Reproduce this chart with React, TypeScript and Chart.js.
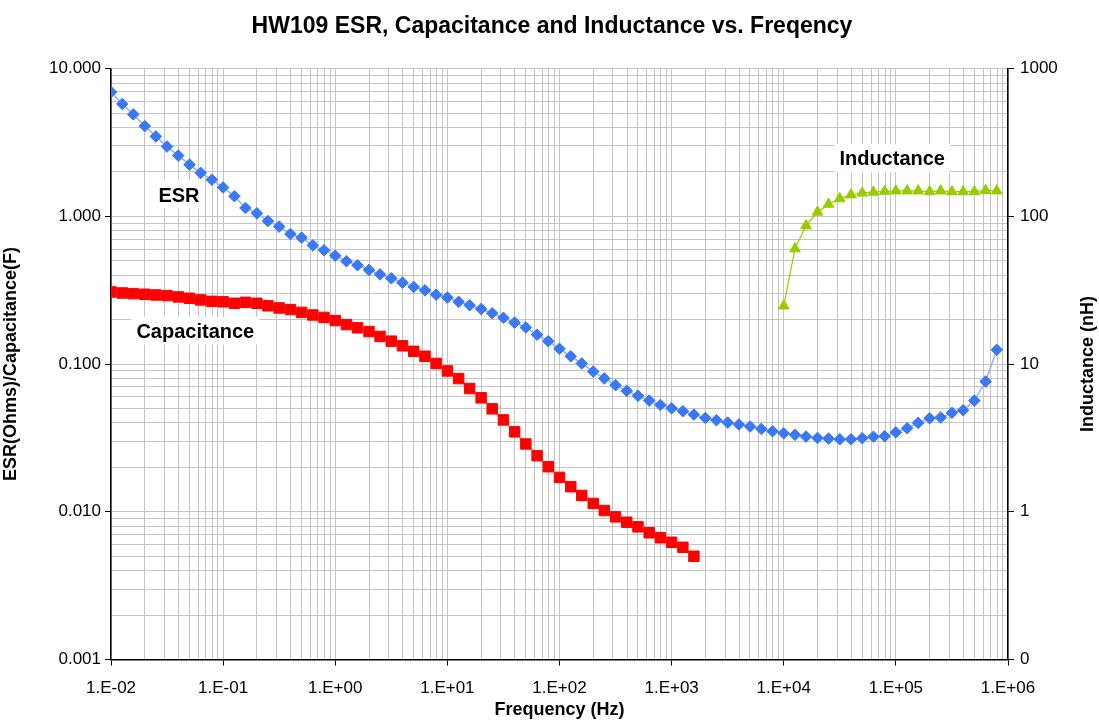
import React, { useEffect, useRef } from 'react';
import { Chart, registerables } from 'chart.js';

Chart.register(...registerables);

// ---------------- data ----------------
const freqHz = [
  1.00e-2, 1.26e-2, 1.58e-2, 2.00e-2, 2.51e-2, 3.16e-2, 3.98e-2, 5.01e-2, 6.31e-2, 7.94e-2,
  1.00e-1, 1.26e-1, 1.58e-1, 2.00e-1, 2.51e-1, 3.16e-1, 3.98e-1, 5.01e-1, 6.31e-1, 7.94e-1,
  1.00e0, 1.26e0, 1.58e0, 2.00e0, 2.51e0, 3.16e0, 3.98e0, 5.01e0, 6.31e0, 7.94e0,
  1.00e1, 1.26e1, 1.58e1, 2.00e1, 2.51e1, 3.16e1, 3.98e1, 5.01e1, 6.31e1, 7.94e1,
  1.00e2, 1.26e2, 1.58e2, 2.00e2, 2.51e2, 3.16e2, 3.98e2, 5.01e2, 6.31e2, 7.94e2,
  1.00e3, 1.26e3, 1.58e3, 2.00e3, 2.51e3, 3.16e3, 3.98e3, 5.01e3, 6.31e3, 7.94e3,
  1.00e4, 1.26e4, 1.58e4, 2.00e4, 2.51e4, 3.16e4, 3.98e4, 5.01e4, 6.31e4, 7.94e4,
  1.00e5, 1.26e5, 1.58e5, 2.00e5, 2.51e5, 3.16e5, 3.98e5, 5.01e5, 6.31e5, 7.94e5,
];

const esrOhms = [
  6.95, 5.77, 4.91, 4.09, 3.48, 2.97, 2.58, 2.24, 1.97, 1.77,
  1.57, 1.37, 1.14, 1.05, 0.93, 0.853, 0.76, 0.718, 0.637, 0.59,
  0.542, 0.497, 0.467, 0.434, 0.405, 0.381, 0.356, 0.333, 0.316, 0.295,
  0.282, 0.264, 0.25, 0.236, 0.221, 0.206, 0.191, 0.177, 0.158, 0.143,
  0.127, 0.113, 0.101, 0.089, 0.08, 0.072, 0.0659, 0.061, 0.0566, 0.0529,
  0.0502, 0.048, 0.0455, 0.0432, 0.0417, 0.0402, 0.039, 0.0378, 0.0364, 0.0351,
  0.034, 0.0332, 0.0323, 0.0316, 0.0313, 0.031, 0.031, 0.0315, 0.0322, 0.0325,
  0.0345, 0.0368, 0.04, 0.043, 0.0435, 0.0468, 0.0487, 0.0566, 0.0762, 0.125,
];

// capacitance measured from 1E-2 Hz up to ~1.6E3 Hz (first 53 frequencies)
const capacitanceF = [
  0.308, 0.303, 0.3, 0.297, 0.294, 0.291, 0.285, 0.279, 0.272, 0.266,
  0.264, 0.258, 0.262, 0.258, 0.248, 0.24, 0.234, 0.224, 0.215, 0.207,
  0.197, 0.185, 0.176, 0.166, 0.154, 0.143, 0.133, 0.122, 0.113, 0.101,
  0.0899, 0.0798, 0.0683, 0.0591, 0.0498, 0.0419, 0.0348, 0.0288, 0.024, 0.0202,
  0.0171, 0.0148, 0.0129, 0.0114, 0.0102, 0.00924, 0.0085, 0.00791, 0.00721, 0.00667,
  0.00622, 0.00575, 0.005,
];

// inductance measured from 1E4 Hz up to ~8E5 Hz (last 20 frequencies)
const inductanceNH = [
  24.8, 60.4, 86.5, 107, 121, 132, 140, 144, 146, 148,
  149, 149, 149, 147, 149, 147, 147, 147, 150, 149,
];
const inductanceStartIndex = 60;

const xDecades = [1e-2, 1e-1, 1e0, 1e1, 1e2, 1e3, 1e4, 1e5, 1e6];
const xTickLabels = ['1.E-02', '1.E-01', '1.E+00', '1.E+01', '1.E+02', '1.E+03', '1.E+04', '1.E+05', '1.E+06'];
const yLeftDecades = [1e-3, 1e-2, 1e-1, 1e0, 1e1];
const yLeftTickLabels = ['0.001', '0.010', '0.100', '1.000', '10.000'];
const yRightDecades = [1e-1, 1e0, 1e1, 1e2, 1e3];
const yRightTickLabels = ['0', '1', '10', '100', '1000'];

const chartTitle = 'HW109 ESR, Capacitance and Inductance vs. Freqency';
const xTitle = 'Frequency (Hz)';
const yLeftTitle = 'ESR(Ohms)/Capacitance(F)';
const yRightTitle = 'Inductance (nH)';

// in-plot series labels, anchored in data coordinates (x: Hz, y: left axis)
const seriesLabels = [
  { text: 'ESR', x: 0.0404, y: 1.41 },
  { text: 'Capacitance', x: 0.0565, y: 0.168 },
  { text: 'Inductance', x: 92700, y: 2.49 },
];

// ---------------- helpers ----------------
const FONT = "'Liberation Sans', Arial, Helvetica, sans-serif";

function allLogTicks(min: number, max: number) {
  const out: { value: number }[] = [];
  const e0 = Math.round(Math.log10(min));
  const e1 = Math.round(Math.log10(max));
  for (let e = e0; e < e1; e++) {
    for (let m = 1; m <= 9; m++) out.push({ value: m * Math.pow(10, e) });
  }
  out.push({ value: max });
  return out;
}
function isMajor(v: number) {
  const l = Math.log10(v);
  return Math.abs(l - Math.round(l)) < 1e-6;
}
function labelFor(v: number, decades: number[], labels: string[]) {
  if (!isMajor(v)) return '';
  const l = Math.round(Math.log10(v));
  const i = decades.findIndex((d) => Math.round(Math.log10(d)) === l);
  return i >= 0 ? labels[i] : '';
}
const majorTickColor = (ctx: any) =>
  ctx && ctx.tick && isMajor(ctx.tick.value) ? '#000000' : 'rgba(0,0,0,0)';

const labelPlugin = {
  id: 'customText',
  beforeDatasetsDraw(chart: any) {
    const ctx = chart.ctx;
    const xs = chart.scales.x;
    const ys = chart.scales.y;
    ctx.save();
    ctx.font = `bold 20px ${FONT}`;
    ctx.textAlign = 'center';
    ctx.textBaseline = 'alphabetic';
    seriesLabels.forEach((l) => {
      const px = xs.getPixelForValue(l.x);
      const py = ys.getPixelForValue(l.y);
      const w = ctx.measureText(l.text).width;
      ctx.fillStyle = '#ffffff';
      ctx.fillRect(px - w / 2 - 5, py - 14, w + 10, 28);
      ctx.fillStyle = '#000000';
      ctx.fillText(l.text, px, py + 7.2);
    });
    ctx.restore();
  },
  afterDraw(chart: any) {
    const ctx = chart.ctx;
    const area = chart.chartArea;
    ctx.save();
    ctx.font = `bold 23px ${FONT}`;
    ctx.fillStyle = '#000000';
    ctx.textAlign = 'center';
    ctx.textBaseline = 'alphabetic';
    ctx.fillText(chartTitle, 552, 33);
    // right axis title, reading bottom-to-top
    ctx.font = `bold 18px ${FONT}`;
    ctx.textBaseline = 'middle';
    ctx.translate(1088, (area.top + area.bottom) / 2);
    ctx.rotate(-Math.PI / 2);
    ctx.fillText(yRightTitle, 0, 0);
    ctx.restore();
  },
};

export default function App() {
  const canvasRef = useRef<HTMLCanvasElement | null>(null);

  useEffect(() => {
    if (!canvasRef.current) return;
    const esrData = esrOhms.map((v, i) => ({ x: freqHz[i], y: v }));
    const capData = capacitanceF.map((v, i) => ({ x: freqHz[i], y: v }));
    const indData = inductanceNH.map((v, i) => ({ x: freqHz[inductanceStartIndex + i], y: v }));

    const chart = new Chart(canvasRef.current, {
      type: 'line',
      data: {
        datasets: [
          {
            label: 'ESR',
            data: esrData,
            yAxisID: 'y',
            borderColor: '#8db2f7',
            borderWidth: 1.5,
            backgroundColor: '#3a78f5',
            pointBackgroundColor: '#3a78f5',
            pointBorderColor: '#3a78f5',
            pointStyle: 'rectRot',
            pointRadius: 5.8,
            pointBorderWidth: 1,
          },
          {
            label: 'Capacitance',
            data: capData,
            yAxisID: 'y',
            borderColor: '#ff7070',
            borderWidth: 1.5,
            backgroundColor: '#ff0000',
            pointBackgroundColor: '#ff0000',
            pointBorderColor: '#ff0000',
            pointStyle: 'rect',
            pointRadius: 7.4,
            pointBorderWidth: 1,
          },
          {
            label: 'Inductance',
            data: indData,
            yAxisID: 'y1',
            borderColor: '#99cc00',
            borderWidth: 1.2,
            backgroundColor: '#99cc00',
            pointBackgroundColor: '#99cc00',
            pointBorderColor: '#99cc00',
            pointStyle: 'triangle',
            pointRadius: 6.2,
            pointBorderWidth: 1,
          },
        ],
      },
      options: {
        animation: false,
        responsive: true,
        maintainAspectRatio: false,
        parsing: true,
        layout: { padding: { top: 68.7, left: 0, right: 0, bottom: 0 } },
        plugins: {
          legend: { display: false },
          tooltip: { enabled: false },
          title: { display: false },
        },
        scales: {
          x: {
            type: 'logarithmic',
            position: 'bottom',
            min: 1e-2,
            max: 1e6,
            afterBuildTicks: (scale: any) => {
              scale.ticks = allLogTicks(1e-2, 1e6);
            },
            afterFit: (scale: any) => {
              scale.height = 62.5;
            },
            ticks: {
              autoSkip: false,
              maxRotation: 0,
              minRotation: 0,
              padding: 13,
              color: '#000000',
              font: { family: FONT, size: 17 },
              callback: (v: any) => labelFor(Number(v), xDecades, xTickLabels),
            },
            grid: {
              color: '#c4c4c4',
              lineWidth: 1,
              drawTicks: true,
              tickLength: 6,
              tickColor: majorTickColor,
            },
            border: { color: '#000000', width: 1.5 },
            title: {
              display: true,
              text: xTitle,
              color: '#000000',
              font: { family: FONT, size: 18, weight: 'bold' },
              padding: { top: 0, bottom: 1 },
            },
          },
          y: {
            type: 'logarithmic',
            position: 'left',
            min: 1e-3,
            max: 10,
            afterBuildTicks: (scale: any) => {
              scale.ticks = allLogTicks(1e-3, 10);
            },
            afterFit: (scale: any) => {
              scale.width = 111;
            },
            ticks: {
              autoSkip: false,
              padding: 4,
              color: '#000000',
              font: { family: FONT, size: 17 },
              callback: (v: any) => labelFor(Number(v), yLeftDecades, yLeftTickLabels),
            },
            grid: {
              color: '#c4c4c4',
              lineWidth: 1,
              drawTicks: true,
              tickLength: 6,
              tickColor: majorTickColor,
            },
            border: { color: '#000000', width: 1.5 },
            title: {
              display: true,
              text: yLeftTitle,
              color: '#000000',
              font: { family: FONT, size: 18, weight: 'bold' },
              padding: { top: 0, bottom: 0 },
            },
          },
          y1: {
            type: 'logarithmic',
            position: 'right',
            min: 0.1,
            max: 1000,
            afterBuildTicks: (scale: any) => {
              scale.ticks = allLogTicks(0.1, 1000);
            },
            afterFit: (scale: any) => {
              scale.width = 91;
            },
            ticks: {
              autoSkip: false,
              padding: 6,
              color: '#000000',
              font: { family: FONT, size: 17 },
              callback: (v: any) => labelFor(Number(v), yRightDecades, yRightTickLabels),
            },
            grid: {
              drawOnChartArea: false,
              drawTicks: true,
              tickLength: 6,
              tickColor: majorTickColor,
            },
            border: { color: '#000000', width: 1.5 },
            title: { display: false },
          },
        },
      } as any,
      plugins: [labelPlugin],
    });
    return () => chart.destroy();
  }, []);

  return (
    <div style={{ position: 'fixed', left: 0, top: 0, width: 1099, height: 722, background: '#ffffff' }}>
      <canvas ref={canvasRef} />
    </div>
  );
}
